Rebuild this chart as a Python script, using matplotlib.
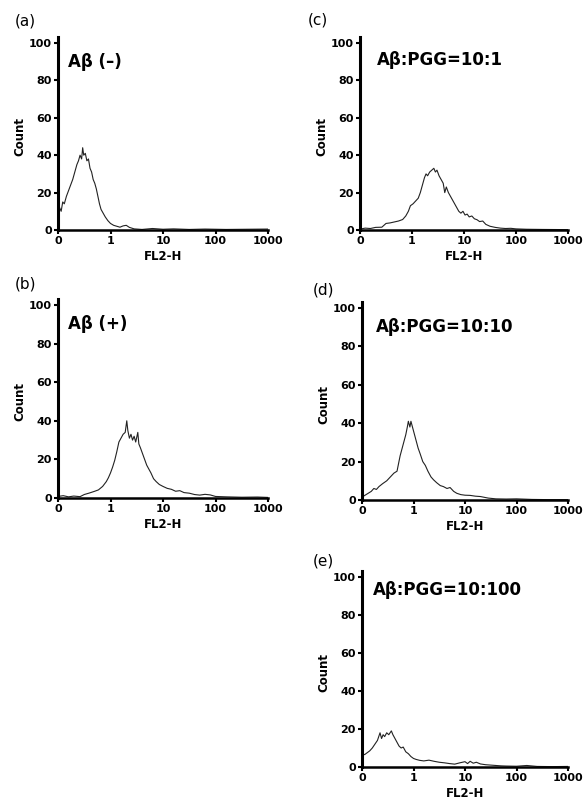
import numpy as np
import matplotlib.pyplot as plt

plt.rcParams['font.family'] = ['DejaVu Sans']

# histogram traces, x in decades of the 4-decade log scale (0 -> label "0", 4 -> "1000")
dec_a = [0.00, 0.03, 0.06, 0.09, 0.12, 0.16, 0.20, 0.24, 0.28, 0.32, 0.36, 0.39, 0.42, 0.45, 0.47,
         0.49, 0.52, 0.55, 0.58, 0.61, 0.64, 0.67, 0.70, 0.73, 0.76, 0.79, 0.82, 0.86, 0.90, 0.95,
         1.00, 1.06, 1.12, 1.18, 1.24, 1.30, 1.36, 1.45, 1.60, 1.80, 2.00, 2.20, 2.50, 2.80, 3.20,
         3.60, 4.00]
cnt_a = [9, 12, 10, 15, 14, 18, 21, 24, 27, 31, 35, 37, 40, 38, 44,
         40, 41, 37, 38, 33, 31, 27, 25, 22, 18, 14, 11, 9, 7, 5,
         3.5, 2.5, 2, 1.5, 2.2, 2.5, 1.4, 0.6, 0.3, 0.8, 0.4, 0.6, 0.3, 0.5, 0.3,
         0.4, 0.5]

dec_b = [0.0, 0.1, 0.2, 0.3, 0.42, 0.5, 0.6, 0.7, 0.77, 0.85, 0.92, 0.96, 1.0, 1.04, 1.08, 1.12,
         1.16, 1.2, 1.24, 1.28, 1.31, 1.33, 1.36, 1.39, 1.42, 1.45, 1.48, 1.52, 1.54, 1.57, 1.61,
         1.65, 1.69, 1.73, 1.77, 1.82, 1.87, 1.93, 2.0, 2.08, 2.16, 2.24, 2.32, 2.4, 2.5, 2.6, 2.7,
         2.8, 2.9, 3.0, 3.2, 3.5, 3.8, 4.0]
cnt_b = [0.8, 1.2, 0.6, 1.0, 0.7, 1.8, 2.6, 3.5, 4.2, 6, 8.5, 10.5, 13, 16, 19.5, 24,
         29, 31, 33, 34, 40, 35, 31, 33, 30, 32, 29, 34, 28, 26, 23,
         20, 17, 15, 13, 10, 8.5, 7, 6, 5, 4.5, 3.5, 3.8, 2.8, 2.5, 1.8, 1.5,
         1.9, 1.6, 0.8, 0.6, 0.4, 0.5, 0.3]

dec_c = [0.0, 0.1, 0.2, 0.3, 0.42, 0.5, 0.58, 0.66, 0.74, 0.82, 0.88, 0.93, 0.97, 1.02, 1.07,
         1.12, 1.16, 1.2, 1.24, 1.27, 1.3, 1.34, 1.38, 1.42, 1.45, 1.48, 1.52, 1.56, 1.6, 1.63,
         1.66, 1.7, 1.74, 1.78, 1.82, 1.86, 1.9, 1.94, 1.98, 2.02, 2.06, 2.1, 2.15, 2.2, 2.25,
         2.3, 2.36, 2.42, 2.5, 2.6, 2.7, 2.8, 2.9, 3.0, 3.2, 3.5, 4.0]
cnt_c = [0.5, 1.0, 0.8, 1.4, 1.5, 3.5, 3.8, 4.3, 4.8, 5.6, 7.5, 10, 13, 14, 15.5,
         17, 20, 24, 28, 30, 29, 31, 32, 33, 31, 32, 29, 27, 25, 20,
         23, 20, 18, 16, 14, 12, 10, 9, 10, 8, 8.5, 7, 7.5, 6, 5.5,
         4.5, 4.8, 3, 2, 1.4, 1.0, 0.8, 0.9, 0.6, 0.4, 0.3, 0.2]

dec_d = [0.0, 0.06, 0.12, 0.18, 0.23, 0.28, 0.33, 0.4, 0.48, 0.55, 0.62, 0.68, 0.71, 0.74, 0.78,
         0.82, 0.85, 0.88, 0.9, 0.93, 0.95, 0.98, 1.01, 1.05, 1.09, 1.13, 1.18, 1.23, 1.28, 1.34,
         1.39, 1.45, 1.52, 1.58, 1.65, 1.71, 1.78, 1.84, 1.92, 2.0, 2.1, 2.2, 2.3, 2.45, 2.6,
         2.8, 3.0, 3.3, 3.6, 4.0]
cnt_d = [1.5, 2.5, 3.5, 4.5, 6, 5.5, 7, 8.5, 10, 12, 14, 15, 19, 23, 27,
         31, 34, 38, 41, 38, 41, 38, 35, 31, 27, 24, 20, 18, 15, 12,
         10.5, 9, 7.5, 7, 6, 6.5, 4.5, 3.5, 2.8, 2.5, 2.4, 2.0, 1.8, 1.0, 0.6,
         0.5, 0.6, 0.3, 0.2, 0.2]

dec_e = [0.0, 0.05, 0.1, 0.15, 0.2, 0.25, 0.3, 0.35, 0.38, 0.41, 0.44, 0.48, 0.52, 0.57, 0.6,
         0.64, 0.68, 0.72, 0.76, 0.8, 0.85, 0.9, 0.95, 1.0, 1.05, 1.12, 1.2, 1.3, 1.4, 1.5,
         1.6, 1.7, 1.8, 1.9, 2.0, 2.05, 2.1, 2.16, 2.22, 2.3, 2.4, 2.5, 2.6, 2.7, 2.8,
         3.0, 3.2, 3.4, 3.7, 4.0]
cnt_e = [7, 6.5, 7.5, 8.5, 10, 12, 14, 18, 15, 17, 16, 18, 17, 19, 17,
         15, 13, 11, 10, 10.5, 8, 7, 5.5, 4.5, 4, 3.5, 3.2, 3.6, 3.0, 2.5,
         2.2, 1.8, 1.5, 2.2, 2.8, 1.8, 3.0, 2.0, 2.5, 1.6, 1.2, 1.0, 0.8, 0.6, 0.5,
         0.4, 0.8, 0.3, 0.2, 0.3]

tick_vals = [0.1, 1, 10, 100, 1000]
tick_labels = ['0', '1', '10', '100', '1000']

panels = [
    ('(a)', 'A\u03b2 (\u2013)', dec_a, cnt_a),
    ('(b)', 'A\u03b2 (+)', dec_b, cnt_b),
    ('(c)', 'A\u03b2:PGG=10:1', dec_c, cnt_c),
    ('(d)', 'A\u03b2:PGG=10:10', dec_d, cnt_d),
    ('(e)', 'A\u03b2:PGG=10:100', dec_e, cnt_e),
]

# axes boxes in pixels: left, right, top(100), bottom(0)
boxes = [(58, 268, 43, 230), (58, 268, 305, 498), (360, 568, 43, 230),
         (362, 568, 308, 500), (362, 568, 577, 767)]
# panel tag (left x, centre y) in pixels and title position in axes fraction
tag_pos = [(15, 21), (15, 284), (308, 20), (313, 290), (313, 561)]
title_pos = [(0.05, 0.90), (0.05, 0.90), (0.08, 0.91), (0.07, 0.90), (0.055, 0.93)]

W, H = 584, 808
fig = plt.figure(figsize=(W / 100, H / 100), dpi=100)

for (tag, title, dec, cnt), (l, r, t, b), (px, py), (tx, ty) in zip(panels, boxes, tag_pos, title_pos):
    ax = fig.add_axes([l / W, 1 - b / H, (r - l) / W, (b - t) / H])
    x = 10 ** (np.array(dec) - 1.0)
    ax.plot(x, cnt, color='#222222', lw=0.8)
    ax.set_xscale('log')
    ax.set_xlim(0.1, 1000)
    ax.set_ylim(0, 100)
    ax.set_xticks(tick_vals)
    ax.set_xticklabels(tick_labels)
    ax.minorticks_off()
    ax.set_yticks([0, 20, 40, 60, 80, 100])
    for s in ['top', 'right']:
        ax.spines[s].set_visible(False)
    ax.spines['left'].set_linewidth(2.2)
    ax.spines['bottom'].set_linewidth(1.8)
    ax.spines['left'].set_bounds(0, 103)
    ax.tick_params(axis='both', direction='out', length=3, width=1.5, pad=1.5,
                   labelsize=8)
    for lab in ax.get_xticklabels() + ax.get_yticklabels():
        lab.set_fontweight('bold')
    ax.set_ylabel('Count', fontsize=8.5, fontweight='bold', labelpad=2)
    ax.set_xlabel('FL2-H', fontsize=8.5, fontweight='bold', labelpad=3)
    ax.text(tx, ty, title, transform=ax.transAxes, fontsize=12,
            fontweight='bold', va='center', ha='left')
    fig.text(px / W, 1 - py / H, tag, fontsize=11, va='center', ha='left')

fig.savefig('out.png', dpi=100)
